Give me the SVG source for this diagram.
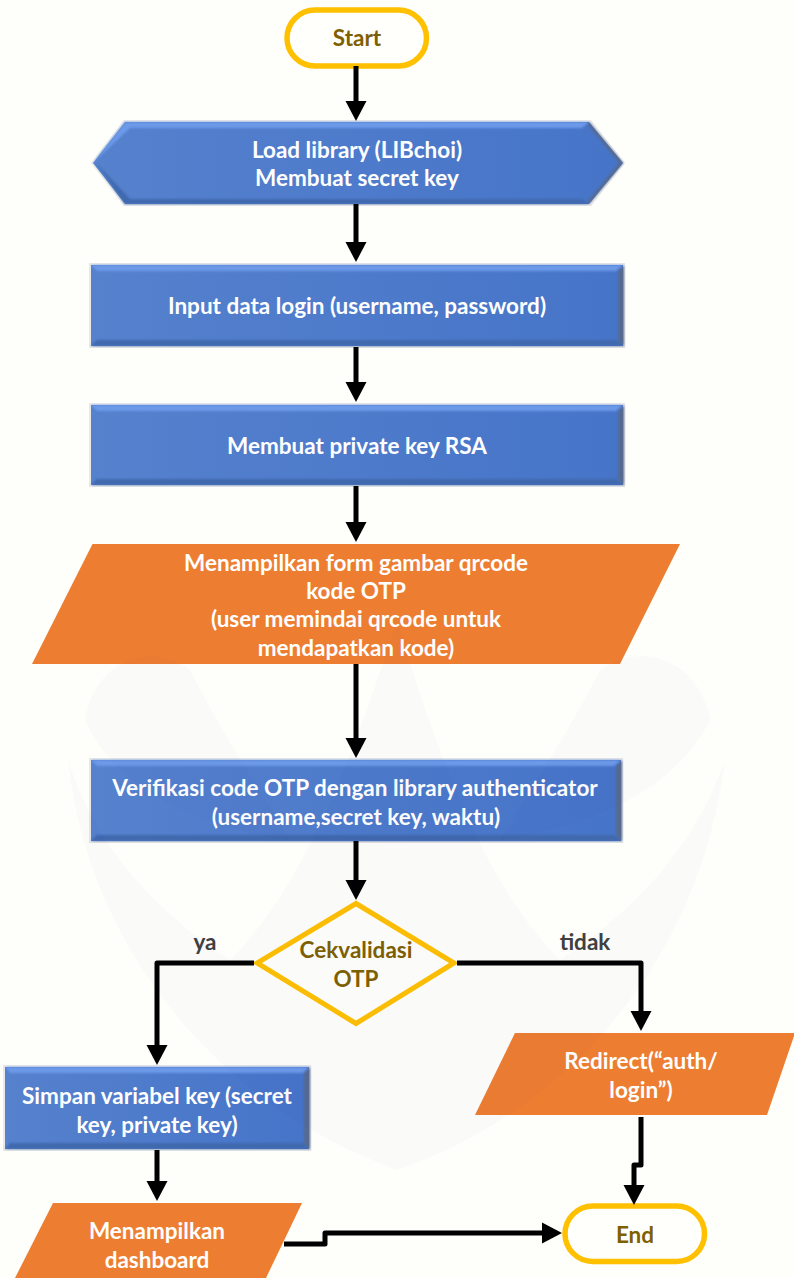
<svg xmlns="http://www.w3.org/2000/svg" width="794" height="1278" viewBox="0 0 794 1278">
<style>
text{font-family:"Lato","Liberation Sans",sans-serif;font-weight:700;font-size:22.500px;text-anchor:middle;transform:translateY(1px)}
.w{fill:#fff}.g{fill:#7f6000}.d{fill:#404040}
.term,.dia{fill:#fffffb;stroke:#ffc000;stroke-width:5.500}
.dia{stroke-width:5}
.out{fill:#ed7d31}
.edge{fill:#e9e9e8}
.main{fill:url(#blue)}
.bev{filter:url(#soft)}
.top{fill:#6c99e8}.bot{fill:#3f69ae}.rgt{fill:#566a8e}
.c{fill:none;stroke:#000;stroke-width:5;stroke-linejoin:round}
.em{fill:#28449c;fill-opacity:.018}
</style>
<defs>
<linearGradient id="blue" x1="0" x2="1" y1="0" y2="0"><stop offset="0" stop-color="#5581cd"/><stop offset="1" stop-color="#4674c8"/></linearGradient>
<filter id="soft" x="-5%" y="-20%" width="110%" height="140%"><feGaussianBlur stdDeviation="1"/></filter>
<marker id="a" markerUnits="userSpaceOnUse" markerWidth="22" markerHeight="22" refX="1" refY="11" orient="auto"><path d="M0 .5L20 11L0 21.5Z" fill="#000"/></marker>
</defs>
<rect width="794" height="1278" fill="#fefefa"/>

<g id="start"><rect class="term" x="287" y="10" width="139.500" height="56" rx="28"/><text class="g" x="357" y="45">Start</text></g>

<g id="load">
<path class="edge" d="M91 163L124 120H591L625 163L591 206H124Z"/>
<path class="main" d="M93 163L125 122H589L623 163L589 204H125Z"/>
<g class="bev">
<path class="top" d="M93 163L125 122H589L582 128H130Z"/>
<path class="bot" d="M96 163L125 204H589L582 199H130Z"/>
<path class="rgt" d="M589 122L623 163L619 163L587 124Z"/>
<path class="rgt" d="M589 204L623 163L619 163L587 202Z"/>
</g>
<text class="w" x="357" y="157">Load library (LIBchoi)</text><text class="w" x="357" y="185">Membuat secret key</text></g>

<g id="input">
<rect class="edge" x="89" y="263" width="536" height="85"/><rect class="main" x="91" y="265" width="532" height="81"/>
<g class="bev"><path class="top" d="M91 265H623L616 271H97Z"/><path class="bot" d="M91 346H623L616 340H97Z"/><path class="rgt" d="M624 265V347L618 340V271Z"/></g>
<text class="w" x="357" y="313">Input data login (username, password)</text></g>

<g id="rsa">
<rect class="edge" x="89" y="403" width="536" height="84"/><rect class="main" x="91" y="405" width="532" height="80"/>
<g class="bev"><path class="top" d="M91 405H623L616 411H97Z"/><path class="bot" d="M91 485H623L616 479H97Z"/><path class="rgt" d="M624 405V486L618 479V411Z"/></g>
<text class="w" x="357" y="453">Membuat private key RSA</text></g>

<g id="qr"><path class="out" d="M92.500 544H680L620 664H32Z"/>
<text class="w" x="356" y="570">Menampilkan form gambar qrcode</text><text class="w" x="356" y="598">kode OTP</text><text class="w" x="356" y="626">(user memindai qrcode untuk</text><text class="w" x="356" y="655">mendapatkan kode)</text></g>

<g id="verif">
<rect class="edge" x="89" y="758" width="534" height="85"/><rect class="main" x="91" y="760" width="530" height="81"/>
<g class="bev"><path class="top" d="M91 760H621L614 766H97Z"/><path class="bot" d="M91 841H621L614 835H97Z"/><path class="rgt" d="M622 760V842L616 835V766Z"/></g>
<text class="w" x="355" y="795">Verifikasi code OTP dengan library authenticator</text><text class="w" x="356" y="824">(username,secret key, waktu)</text></g>

<g id="cek"><path class="dia" d="M356 903.500L454 963L356 1023.500L257 963Z"/><text class="g" x="356" y="957">Cekvalidasi</text><text class="g" x="356" y="986">OTP</text></g>

<g id="redirect"><path class="out" d="M515 1033H794V1036L767 1115H475Z"/><text class="w" x="641" y="1068">Redirect(“auth/</text><text class="w" x="641" y="1097">login”)</text></g>

<g id="simpan">
<rect class="edge" x="3" y="1065" width="308" height="86"/><rect class="main" x="5" y="1067" width="304" height="82"/>
<g class="bev"><path class="top" d="M5 1067H309L303 1073H10Z"/><path class="bot" d="M5 1149H309L303 1143H10Z"/><path class="rgt" d="M310 1067V1150L304 1143V1073Z"/></g>
<text class="w" x="157" y="1103">Simpan variabel key (secret</text><text class="w" x="157" y="1132">key, private key)</text></g>

<g id="dashboard"><path class="out" d="M53 1203H302L266 1278H15Z"/><text class="w" x="157" y="1238">Menampilkan</text><text class="w" x="157" y="1267">dashboard</text></g>

<g id="end"><rect class="term" x="565" y="1206" width="139.500" height="55.500" rx="28"/><text class="g" x="635" y="1242">End</text></g>

<g id="connectors">
<path class="c" d="M356 66V102" marker-end="url(#a)"/>
<path class="c" d="M356 204V243" marker-end="url(#a)"/>
<path class="c" d="M356 347V383" marker-end="url(#a)"/>
<path class="c" d="M356 486V523" marker-end="url(#a)"/>
<path class="c" d="M356 664V739" marker-end="url(#a)"/>
<path class="c" d="M356 841V881" marker-end="url(#a)"/>
<path class="c" d="M254 963H157V1046" marker-end="url(#a)"/>
<path class="c" d="M457 963H641V1012" marker-end="url(#a)"/>
<path class="c" d="M157 1150V1182" marker-end="url(#a)"/>
<path class="c" d="M641 1117V1165H634V1186" marker-end="url(#a)"/>
<path class="c" d="M284 1244H325V1233H543" marker-end="url(#a)"/>
</g>
<text class="d" x="205" y="949">ya</text>
<text class="d" x="585" y="949">tidak</text>

<g id="watermark">
<path class="em" d="M68 760C90 960 230 1110 397 1170C570 1110 700 960 725 760C690 860 620 920 560 960C500 900 450 800 397 620C340 800 290 900 230 960C170 920 100 860 68 760Z"/>
<path class="em" d="M85 720C95 660 150 640 190 670C220 730 260 790 290 840C220 830 120 800 85 720Z"/>
<path class="em" d="M710 720C700 660 640 640 600 670C570 730 530 790 500 840C570 830 670 800 710 720Z"/>
</g>
</svg>
